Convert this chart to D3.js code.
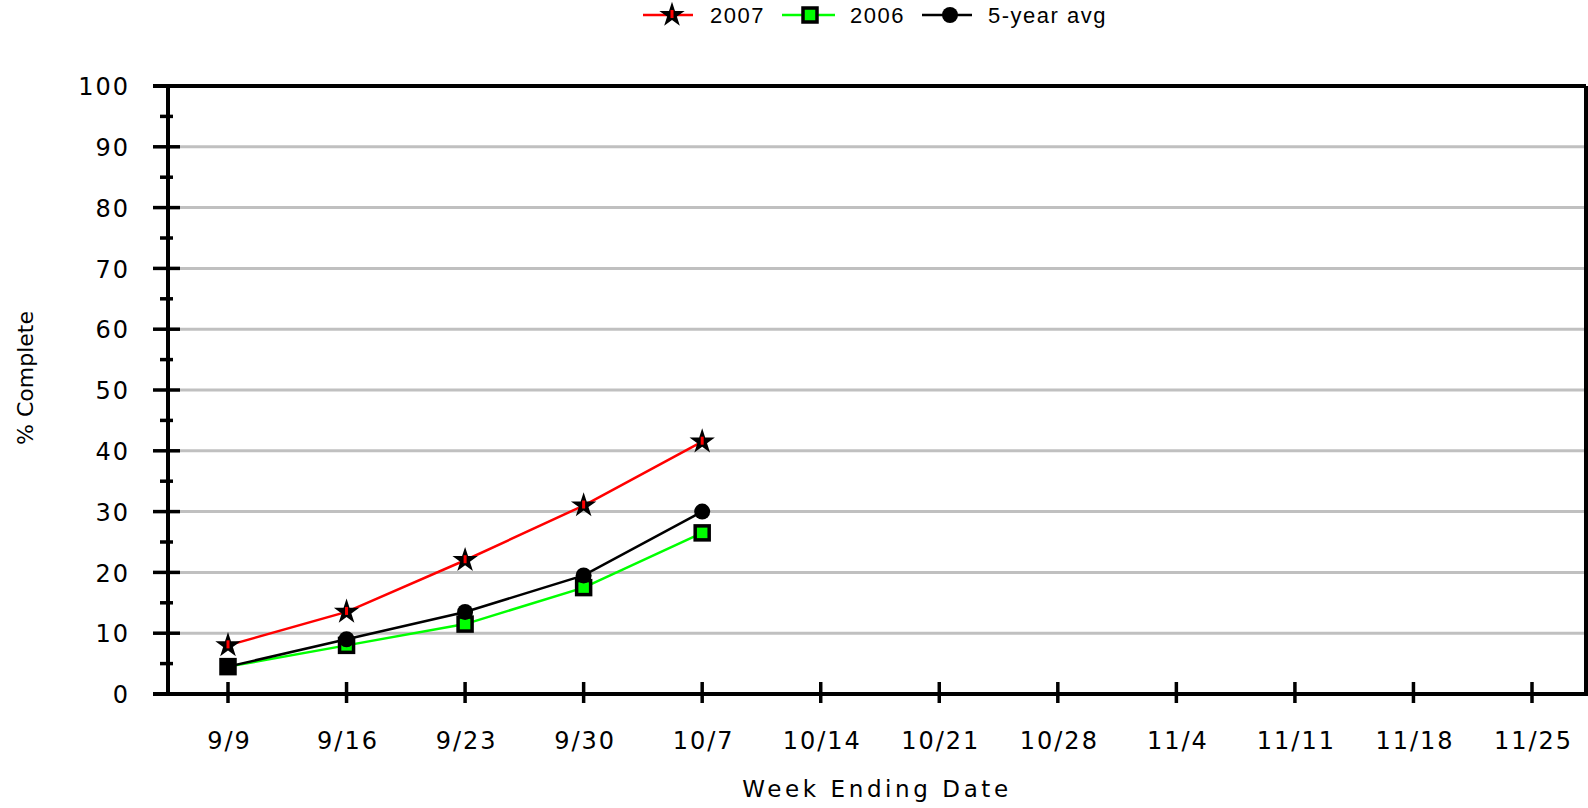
<!DOCTYPE html>
<html>
<head>
<meta charset="utf-8">
<script src="https://cdn.jsdelivr.net/npm/d3@7"></script>
<style>
html,body{margin:0;padding:0;background:#fff;overflow:hidden;}
svg{display:block;}
</style>
</head>
<body>
<svg id="chart" width="1588" height="808"></svg>
<script>
const weeks = ["9/9","9/16","9/23","9/30","10/7","10/14","10/21","10/28","11/4","11/11","11/18","11/25"];
const series2007 = [8, 13.5, 22, 31, 41.5];
const series2006 = [4.5, 8, 11.5, 17.5, 26.5];
const seriesAvg  = [4.5, 9, 13.5, 19.5, 30];
const yTicks = [0,10,20,30,40,50,60,70,80,90,100];
const yMinorTicks = [5,15,25,35,45,55,65,75,85,95];
const legendNames = ["2007","2006","5-year avg"];

(function(){
const svg = d3.select("#chart");
const pLeft = 168, pRight = 1586, pTop = 86, pBottom = 694;
const x = d3.scalePoint().domain(weeks).range([228, 1532]);
const y = d3.scaleLinear().domain([0,100]).range([pBottom, pTop]);

// gridlines
svg.append("g").selectAll("line").data(yTicks.filter(d => d > 0 && d < 100)).join("line")
  .attr("x1", 180).attr("x2", pRight).attr("y1", d => y(d)).attr("y2", d => y(d))
  .attr("stroke", "#c0c0c0").attr("stroke-width", 3);

// top border & right border
svg.append("line").attr("x1", 153).attr("x2", pRight).attr("y1", y(100)).attr("y2", y(100))
  .attr("stroke", "#000").attr("stroke-width", 4);
svg.append("line").attr("x1", pRight).attr("x2", pRight).attr("y1", y(100)).attr("y2", pBottom)
  .attr("stroke", "#000").attr("stroke-width", 4);

// y axis
const yAxis = d3.axisLeft(y).tickValues(yTicks).tickSize(0).tickPadding(0);
const gy = svg.append("g").attr("transform", `translate(${pLeft},0)`).call(yAxis);
gy.select(".domain").remove();
gy.selectAll(".tick text").attr("x", -38).attr("dy", "0.36em")
  .style("font-family", "DejaVu Sans").style("font-size", "24px").style("letter-spacing", "2px").attr("fill", "#000");
svg.append("line").attr("x1", pLeft).attr("x2", pLeft).attr("y1", pTop - 2).attr("y2", pBottom + 2)
  .attr("stroke", "#000").attr("stroke-width", 4);
svg.append("g").selectAll("line").data(yTicks).join("line")
  .attr("x1", 153).attr("x2", 180).attr("y1", d => y(d)).attr("y2", d => y(d))
  .attr("stroke", "#000").attr("stroke-width", 3.5);
svg.append("g").selectAll("line").data(yMinorTicks).join("line")
  .attr("x1", 160).attr("x2", 173).attr("y1", d => y(d)).attr("y2", d => y(d))
  .attr("stroke", "#000").attr("stroke-width", 3.5);

// x axis
const xAxis = d3.axisBottom(x).tickSize(0).tickPadding(0);
const gx = svg.append("g").attr("transform", `translate(0,${pBottom})`).call(xAxis);
gx.select(".domain").remove();
gx.selectAll(".tick text").attr("y", 46).attr("dy", "0.36em").attr("dx", "1px")
  .style("font-family", "DejaVu Sans").style("font-size", "24px").style("letter-spacing", "2px").attr("fill", "#000");
svg.append("line").attr("x1", 153).attr("x2", 1588).attr("y1", pBottom).attr("y2", pBottom)
  .attr("stroke", "#000").attr("stroke-width", 4);
svg.append("g").selectAll("line").data(weeks).join("line")
  .attr("x1", d => x(d)).attr("x2", d => x(d)).attr("y1", pBottom - 12).attr("y2", pBottom + 9)
  .attr("stroke", "#000").attr("stroke-width", 3.5);

// axis titles
svg.append("text").attr("x", 877).attr("y", 797).attr("text-anchor", "middle")
  .style("font-family", "DejaVu Sans").style("font-size", "23px").style("letter-spacing", "3.6px")
  .text("Week Ending Date");
svg.append("text").attr("transform", "translate(33,378) rotate(-90)").attr("text-anchor", "middle")
  .style("font-family", "DejaVu Sans").style("font-size", "22px").style("letter-spacing", "0px")
  .text("% Complete");

// lines
const line = d3.line().x((d,i) => x(weeks[i])).y(d => y(d));
svg.append("path").datum(series2007).attr("d", line).attr("fill","none").attr("stroke","#ff0000").attr("stroke-width",2.5);
svg.append("path").datum(series2006).attr("d", line).attr("fill","none").attr("stroke","#00ff00").attr("stroke-width",2.5);
svg.append("path").datum(seriesAvg).attr("d", line).attr("fill","none").attr("stroke","#000").attr("stroke-width",2.5);

// markers
const star = d3.symbol().type(d3.symbolStar).size(200);
function drawStar(g, cx, cy) {
  g.append("path").attr("d", star()).attr("transform", `translate(${cx},${cy})`).attr("fill", "#000");
  g.append("rect").attr("x", cx - 1.5).attr("y", cy - 5).attr("width", 3).attr("height", 8).attr("fill", "#ff0000");
}
function drawSquare(g, cx, cy) {
  g.append("rect").attr("x", cx - 7).attr("y", cy - 7).attr("width", 14).attr("height", 14)
    .attr("fill", "#00ff00").attr("stroke", "#000").attr("stroke-width", 3.5);
}
function drawCircle(g, cx, cy) {
  g.append("circle").attr("cx", cx).attr("cy", cy).attr("r", 8).attr("fill", "#000");
}
const mk = svg.append("g");
series2006.forEach((d,i) => drawSquare(mk, x(weeks[i]), y(d)));
seriesAvg.forEach((d,i) => drawCircle(mk, x(weeks[i]), y(d)));
series2007.forEach((d,i) => drawStar(mk, x(weeks[i]), y(d)));

// legend
const lg = svg.append("g");
const legendItems = [
  {name: legendNames[0], color: "#ff0000", x1: 643, x2: 693, mx: 672, tx: 710, m: drawStar},
  {name: legendNames[1], color: "#00ff00", x1: 782, x2: 835, mx: 810, tx: 850, m: drawSquare},
  {name: legendNames[2], color: "#000000", x1: 922, x2: 972, mx: 950, tx: 988, m: drawCircle}
];
legendItems.forEach(it => {
  lg.append("line").attr("x1", it.x1).attr("x2", it.x2).attr("y1", 15).attr("y2", 15)
    .attr("stroke", it.color).attr("stroke-width", 2.5);
  it.m(lg, it.mx, 15);
  lg.append("text").attr("x", it.tx).attr("y", 15).attr("dy", "0.36em")
    .style("font-family", "Liberation Sans").style("font-size", "22px").style("letter-spacing", "1.5px")
    .text(it.name);
});
})();
</script>
</body>
</html>
